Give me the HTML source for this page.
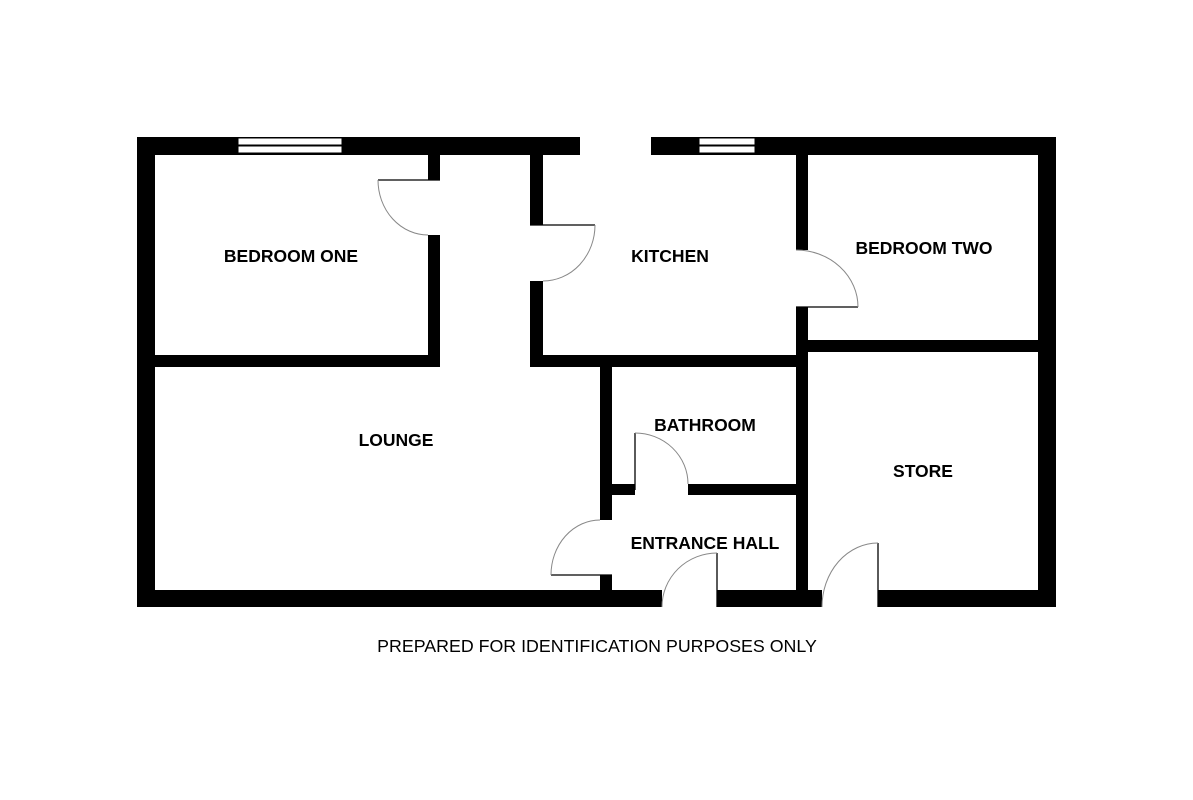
<!DOCTYPE html>
<html><head><style>body{margin:0;background:#fff}svg{display:block}</style></head><body>
<svg width="1193" height="800" viewBox="0 0 1193 800" xmlns="http://www.w3.org/2000/svg">
<g fill="#000">
<rect x="137" y="137" width="443" height="18"/>
<rect x="651" y="137" width="405" height="18"/>
<rect x="137" y="137" width="18" height="470"/>
<rect x="1038" y="137" width="18" height="470"/>
<rect x="137" y="590" width="525" height="17"/>
<rect x="717" y="590" width="105" height="17"/>
<rect x="878" y="590" width="178" height="17"/>
<rect x="428" y="155" width="12" height="25"/>
<rect x="428" y="235" width="12" height="132"/>
<rect x="155" y="355" width="285" height="12"/>
<rect x="530" y="155" width="13" height="70"/>
<rect x="530" y="281" width="13" height="86"/>
<rect x="530" y="355" width="278" height="12"/>
<rect x="796" y="155" width="12" height="95"/>
<rect x="796" y="307" width="12" height="300"/>
<rect x="808" y="340" width="230" height="12"/>
<rect x="600" y="367" width="12" height="153"/>
<rect x="600" y="575" width="12" height="15"/>
<rect x="612" y="484" width="23" height="11"/>
<rect x="688" y="484" width="108" height="11"/>
</g>
<g fill="#fff" stroke="#000" stroke-width="1">
<rect x="238" y="138" width="104" height="7"/><rect x="238" y="146" width="104" height="7"/>
<rect x="699" y="138" width="56" height="7"/><rect x="699" y="146" width="56" height="7"/>
</g>
<g fill="none" stroke="#000" stroke-width="1.3">
<line x1="378" y1="180" x2="440" y2="180"/>
<line x1="530" y1="225" x2="595" y2="225"/>
<line x1="796" y1="307" x2="858" y2="307"/>
<line x1="635" y1="433" x2="635" y2="490"/>
<line x1="551" y1="575" x2="612" y2="575"/>
<line x1="717" y1="553" x2="717" y2="607"/>
<line x1="878" y1="543" x2="878" y2="607"/>
</g>
<g fill="none" stroke="#888" stroke-width="1">
<path d="M378 180 A50 55 0 0 0 428 235"/>
<path d="M595 225 A52 56 0 0 1 543 281"/>
<path d="M796 250 A62 57 0 0 1 858 307"/>
<path d="M635 433 A53 51 0 0 1 688 484"/>
<path d="M551 575 A49 55 0 0 1 600 520"/>
<path d="M662 607 A55 54 0 0 1 717 553"/>
<path d="M822 607 A56 64 0 0 1 878 543"/>
</g>
<g font-family="Liberation Sans, sans-serif" font-weight="bold" font-size="17.5" text-anchor="middle" fill="#000">
<text x="291" y="262">BEDROOM ONE</text>
<text x="670" y="262">KITCHEN</text>
<text x="924" y="254">BEDROOM TWO</text>
<text x="396" y="446">LOUNGE</text>
<text x="705" y="431">BATHROOM</text>
<text x="923" y="477">STORE</text>
<text x="705" y="549">ENTRANCE HALL</text>
</g>
<text x="597" y="652" font-family="Liberation Sans, sans-serif" font-size="17.8" text-anchor="middle" fill="#000">PREPARED FOR IDENTIFICATION PURPOSES ONLY</text>
</svg>
</body></html>
